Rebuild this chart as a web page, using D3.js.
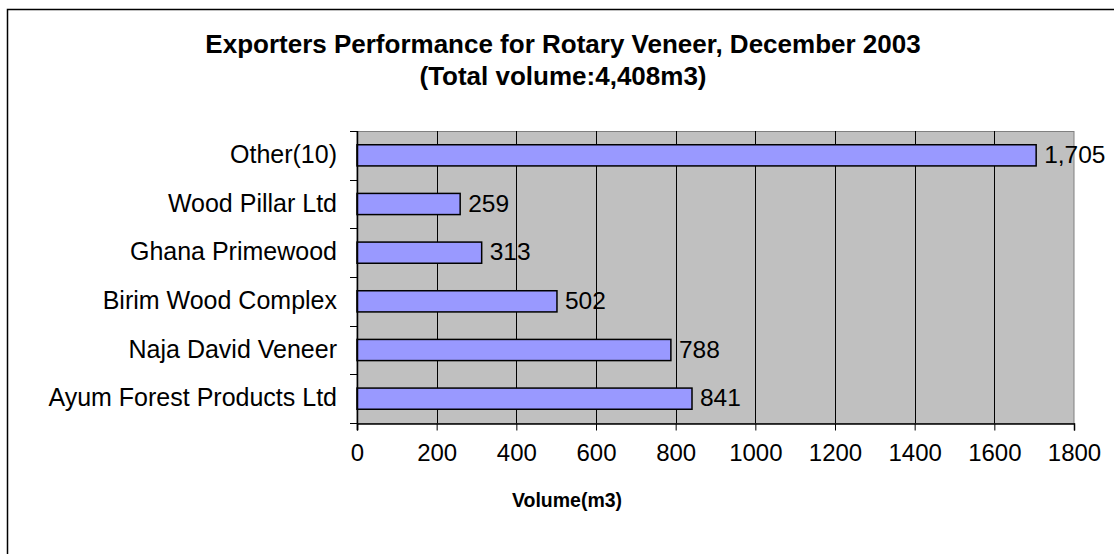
<!DOCTYPE html>
<html>
<head>
<meta charset="utf-8">
<script src="https://cdn.jsdelivr.net/npm/d3@7"></script>
<style>
  html, body { margin: 0; padding: 0; background: #fff; }
  svg { display: block; font-family: Arial, "Liberation Sans", sans-serif; }
</style>
</head>
<body>
<div id="chart"></div>
<script>
const categories = [
  'Other(10)',
  'Wood Pillar Ltd',
  'Ghana Primewood ',
  'Birim Wood Complex',
  'Naja David Veneer',
  'Ayum Forest Products Ltd',
];
const volumes = [1705, 259, 313, 502, 788, 841];
const xTicks = [0, 200, 400, 600, 800, 1000, 1200, 1400, 1600, 1800];
const titleLines = [
  'Exporters Performance for Rotary Veneer, December 2003',
  '(Total volume:4,408m3)',
];
const xTitle = 'Volume(m3)';

const width = 1114;
const height = 554;
const plot = { left: 357, right: 1074, top: 131, bottom: 423 };

const data = categories.map((c, i) => ({ name: c, value: volumes[i] }));

const svg = d3.select('#chart')
  .append('svg')
  .attr('width', width)
  .attr('height', height);

// chart frame
svg.append('rect')
  .attr('x', 7.5)
  .attr('y', 9.5)
  .attr('width', 1130)
  .attr('height', 560)
  .attr('fill', '#fff')
  .attr('stroke', '#000')
  .attr('stroke-width', 1.5);

const x = d3.scaleLinear()
  .domain([0, 1800])
  .range([plot.left, plot.right]);

const y = d3.scaleBand()
  .domain(categories)
  .range([plot.top, plot.bottom])
  .paddingInner(0.565)
  .paddingOuter(0.565 / 2);

const yBand = d3.scaleBand()
  .domain(categories)
  .range([plot.top, plot.bottom]);

// plot area
svg.append('rect')
  .attr('x', plot.left)
  .attr('y', plot.top + 0.5)
  .attr('width', plot.right - plot.left)
  .attr('height', plot.bottom - plot.top)
  .attr('fill', '#c0c0c0')
  .attr('stroke', '#808080')
  .attr('stroke-width', 1);

// gridlines
svg.append('g')
  .selectAll('line')
  .data(xTicks.slice(1, -1))
  .join('line')
  .attr('x1', (d) => Math.round(x(d)) + 0.5)
  .attr('x2', (d) => Math.round(x(d)) + 0.5)
  .attr('y1', plot.top)
  .attr('y2', plot.bottom)
  .attr('stroke', '#000')
  .attr('stroke-width', 1);

// bars
svg.append('g')
  .selectAll('rect')
  .data(data)
  .join('rect')
  .attr('x', x(0))
  .attr('y', (d) => y(d.name))
  .attr('width', (d) => x(d.value) - x(0))
  .attr('height', y.bandwidth())
  .attr('fill', '#9999ff')
  .attr('stroke', '#000')
  .attr('stroke-width', 1.5);

// value labels
svg.append('g')
  .selectAll('text')
  .data(data)
  .join('text')
  .attr('x', (d) => x(d.value) + 8)
  .attr('y', (d) => yBand(d.name) + yBand.bandwidth() / 2 + 7.5)
  .attr('font-size', 24.5)
  .attr('fill', '#000')
  .text((d) => d3.format(',')(d.value));

// x axis
const xAxis = svg.append('g')
  .attr('transform', `translate(0,${plot.bottom + 0.5})`)
  .call(d3.axisBottom(x).tickValues(xTicks).tickSize(7).tickPadding(13).tickFormat(d3.format('d')));
xAxis.select('.domain').attr('stroke', '#000').attr('stroke-width', 1.5);
xAxis.selectAll('.tick line').attr('stroke', '#000');
xAxis.selectAll('.tick text')
  .attr('font-size', 24)
  .attr('font-family', 'Arial, "Liberation Sans", sans-serif')
  .attr('fill', '#000');

// y axis (category ticks at band edges)
svg.append('line')
  .attr('x1', plot.left + 0.5)
  .attr('x2', plot.left + 0.5)
  .attr('y1', plot.top)
  .attr('y2', plot.bottom + 7)
  .attr('stroke', '#000')
  .attr('stroke-width', 1.5);

const edges = categories.map((c) => yBand(c)).concat([plot.bottom]);
svg.append('g')
  .selectAll('line')
  .data(edges)
  .join('line')
  .attr('x1', plot.left - 7)
  .attr('x2', plot.left)
  .attr('y1', (d) => Math.round(d) + 0.5)
  .attr('y2', (d) => Math.round(d) + 0.5)
  .attr('stroke', '#000')
  .attr('stroke-width', 1);

svg.append('g')
  .selectAll('text')
  .data(categories)
  .join('text')
  .attr('x', 337)
  .attr('y', (d) => yBand(d) + yBand.bandwidth() / 2 + 7.5)
  .attr('text-anchor', 'end')
  .attr('font-size', 25)
  .attr('fill', '#000')
  .text((d) => d);

// titles
svg.append('g')
  .selectAll('text')
  .data(titleLines)
  .join('text')
  .attr('x', 563)
  .attr('y', (d, i) => 53 + i * 32)
  .attr('text-anchor', 'middle')
  .attr('font-size', 26)
  .attr('font-weight', 'bold')
  .attr('fill', '#000')
  .text((d) => d);

svg.append('text')
  .attr('x', 567)
  .attr('y', 507)
  .attr('text-anchor', 'middle')
  .attr('font-size', 19.5)
  .attr('font-weight', 'bold')
  .attr('fill', '#000')
  .text(xTitle);
</script>
</body>
</html>
